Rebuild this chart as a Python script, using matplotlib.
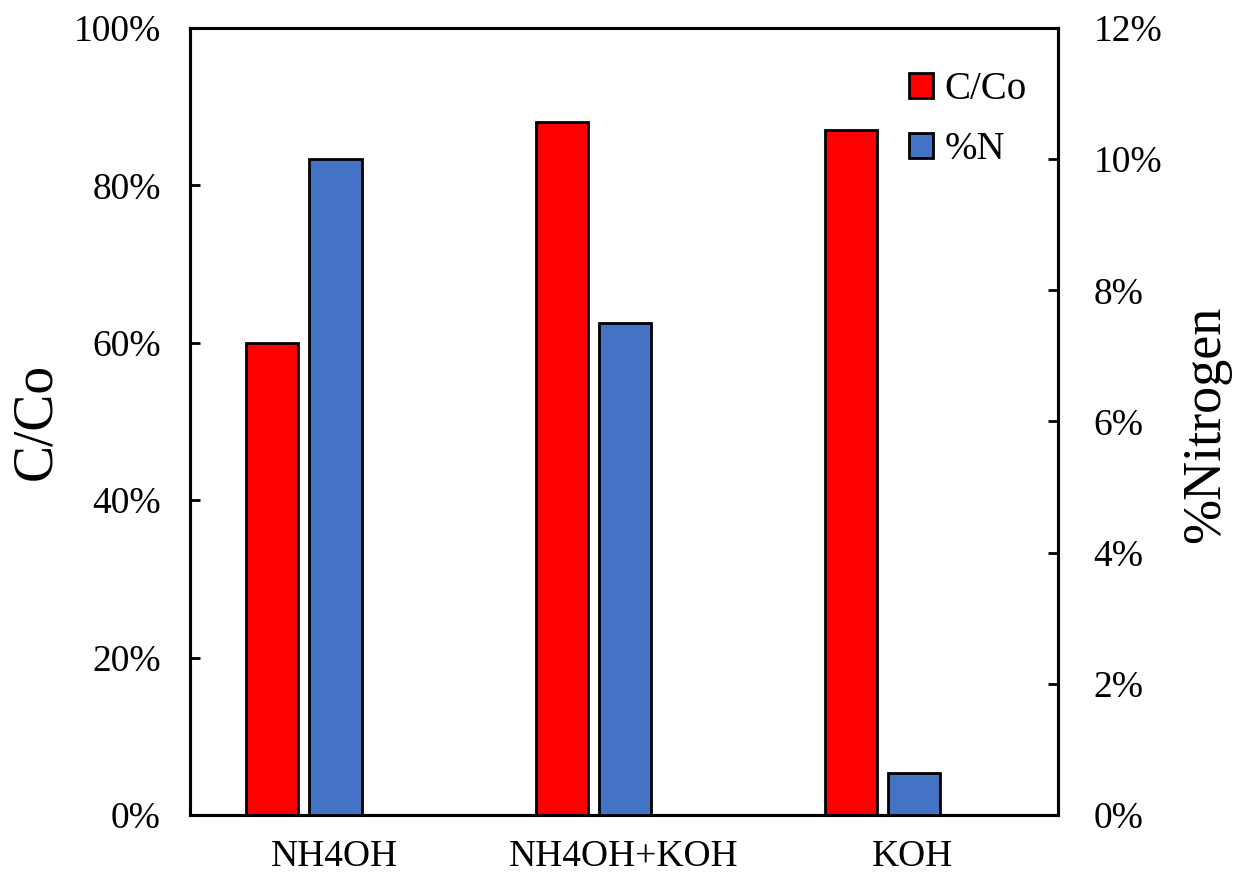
import matplotlib
matplotlib.use("Agg")
import matplotlib.pyplot as plt
from matplotlib.ticker import PercentFormatter
from matplotlib.patches import Patch
import numpy as np

# data
categories = ["NH4OH", "NH4OH+KOH", "KOH"]
c_co = [0.60, 0.88, 0.87]
nitrogen = [0.100, 0.075, 0.0064]

plt.rcParams['font.family'] = ['Liberation Serif', 'DejaVu Serif']

fig = plt.figure(figsize=(12.34, 8.75), dpi=100)
ax = fig.add_axes([0.154, 0.0686, 0.703, 0.8994])
ax2 = ax.twinx()

x = np.arange(len(categories))
w = 0.18
ax.bar(x - 0.215, c_co, w, color="#FF0000", edgecolor="black", linewidth=2, zorder=3)
ax2.bar(x + 0.003, nitrogen, w, color="#4472C4", edgecolor="black", linewidth=2, zorder=3)

ax.set_xlim(-0.5, 2.5)
ax.set_ylim(0, 1.0)
ax2.set_ylim(0, 0.12)
ax.set_yticks(np.arange(0, 1.01, 0.2))
ax2.set_yticks(np.arange(0, 0.121, 0.02))
ax.yaxis.set_major_formatter(PercentFormatter(1.0, decimals=0))
ax2.yaxis.set_major_formatter(PercentFormatter(1.0, decimals=0))

ax.set_xticks(x)
ax.set_xticklabels(categories)
ax.tick_params(axis="x", length=0, pad=18, labelsize=27)
ax.tick_params(axis="y", direction="in", length=7, width=2, pad=21, labelsize=27)
ax2.tick_params(axis="y", direction="in", length=7, width=2, pad=26, labelsize=27)

for a in (ax, ax2):
    for s in a.spines.values():
        s.set_linewidth(2.2)

ax.set_ylabel("C/Co", fontsize=40)
ax.yaxis.set_label_coords(-0.147, 0.50)
ax2.set_ylabel("%Nitrogen", fontsize=39, rotation=90)
ax2.yaxis.set_label_coords(1.142, 0.496)

handles = [Patch(facecolor="#FF0000", edgecolor="black", linewidth=2, label="C/Co"),
           Patch(facecolor="#4472C4", edgecolor="black", linewidth=2, label="%N")]
ax2.legend(handles=handles, loc="upper left", bbox_to_anchor=(0.789, 0.99),
           frameon=False, fontsize=28, handlelength=0.6, handleheight=0.6,
           handletextpad=0.3, labelspacing=0.6)

fig.savefig("out.png", dpi=100)
